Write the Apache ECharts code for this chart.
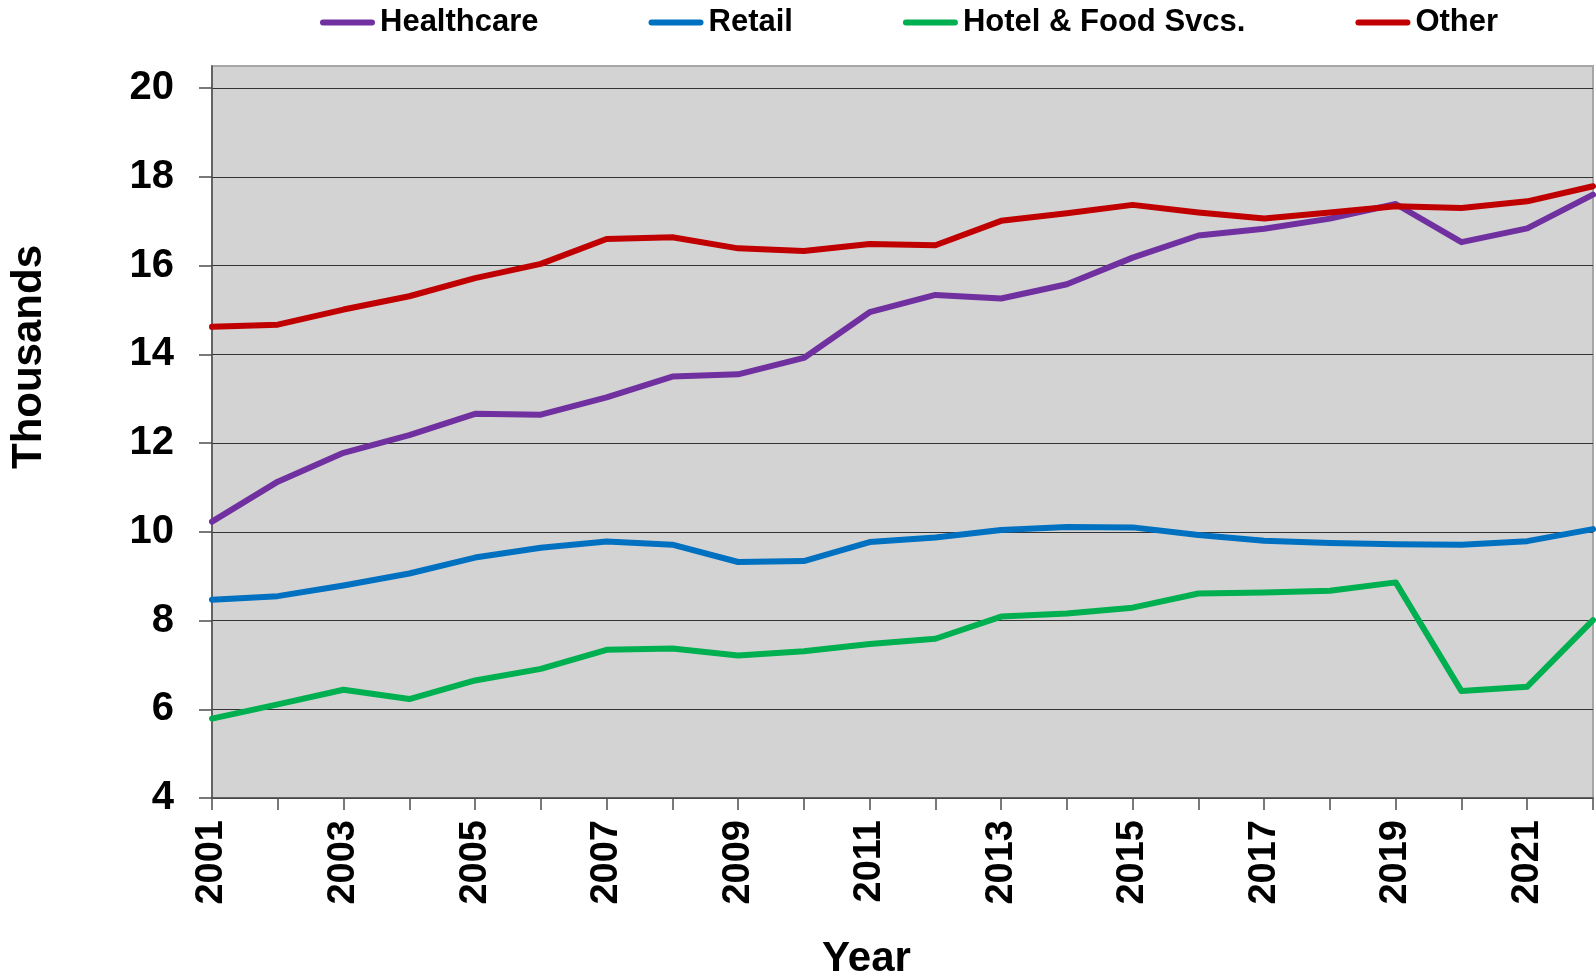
<!DOCTYPE html>
<html>
<head>
<meta charset="utf-8">
<script src="https://cdn.jsdelivr.net/npm/echarts@6/dist/echarts.min.js"></script>
<style>
  html, body { margin: 0; padding: 0; background: #ffffff; }
  #chart { width: 1596px; height: 976px; }
</style>
</head>
<body>
<div id="chart"></div>
<script>
// Employment by sector, thousands
const years = ['2001','2002','2003','2004','2005','2006','2007','2008','2009','2010','2011',
               '2012','2013','2014','2015','2016','2017','2018','2019','2020','2021','2022'];

const healthcare = [10.23, 11.13, 11.78, 12.18, 12.66, 12.64, 13.03, 13.50, 13.55, 13.92, 14.95,
                    15.34, 15.26, 15.58, 16.18, 16.68, 16.83, 17.06, 17.39, 16.53, 16.84, 17.60];
const retail     = [8.47, 8.55, 8.79, 9.06, 9.42, 9.64, 9.78, 9.71, 9.32, 9.34, 9.77,
                    9.87, 10.04, 10.11, 10.10, 9.93, 9.80, 9.75, 9.72, 9.71, 9.79, 10.06];
const hotelFood  = [5.79, 6.11, 6.44, 6.23, 6.65, 6.91, 7.34, 7.37, 7.21, 7.31, 7.47,
                    7.59, 8.09, 8.16, 8.29, 8.61, 8.63, 8.67, 8.86, 6.41, 6.51, 8.01];
const other      = [14.62, 14.67, 15.01, 15.31, 15.72, 16.04, 16.60, 16.64, 16.39, 16.33, 16.49,
                    16.46, 17.01, 17.18, 17.37, 17.20, 17.06, 17.20, 17.34, 17.30, 17.45, 17.79];

const yTicks = [4, 6, 8, 10, 12, 14, 16, 18, 20];

const FONT = '"Liberation Sans", Arial, sans-serif';
const capsule = 'path://M3,0 L52,0 A3,3 0 0 1 52,6 L3,6 A3,3 0 0 1 3,0 Z';

function lineSeries(name, data, color) {
  return {
    name: name,
    type: 'line',
    data: data,
    symbol: 'none',
    lineStyle: { color: color, width: 6, cap: 'round', join: 'round' },
    itemStyle: { color: color },
    z: 3
  };
}

const chart = echarts.init(document.getElementById('chart'), null, { renderer: 'canvas' });

chart.setOption({
  animation: false,
  backgroundColor: '#ffffff',
  legend: {
    left: 315,
    top: 2,
    icon: capsule,
    itemWidth: 55,
    itemHeight: 6,
    itemGap: 110,
    textStyle: { fontFamily: FONT, fontSize: 31, fontWeight: 'bold', color: '#000' },
    data: ['Healthcare', 'Retail', 'Hotel & Food Svcs.', 'Other']
  },
  grid: {
    left: 212,
    right: 3,
    top: 66,
    bottom: 178,
    outerBoundsMode: 'none',
    show: true,
    backgroundColor: '#d3d3d3',
    borderColor: '#a6a6a6',
    borderWidth: 2
  },
  xAxis: {
    type: 'category',
    data: years,
    boundaryGap: false,
    name: 'Year',
    nameLocation: 'middle',
    nameGap: 140,
    nameTextStyle: { fontFamily: FONT, fontSize: 42, fontWeight: 'bold', color: '#000', padding: [0, 72, 0, 0] },
    axisLine: { lineStyle: { color: '#4d4d4d', width: 1.5 } },
    axisTick: { show: true, interval: 0, length: 12, alignWithLabel: true, lineStyle: { color: '#4d4d4d', width: 1.5 } },
    axisLabel: {
      interval: 1,
      rotate: 90,
      margin: 22,
      fontFamily: FONT, fontSize: 38, fontWeight: 'bold', color: '#000'
    },
    splitLine: { show: false }
  },
  yAxis: {
    type: 'value',
    min: 4,
    max: 20.5,
    interval: 2,
    name: 'Thousands',
    nameLocation: 'middle',
    nameGap: 162,
    nameTextStyle: { fontFamily: FONT, fontSize: 42, fontWeight: 'bold', color: '#000', padding: [0, 0, 0, 150] },
    axisLine: { show: true, lineStyle: { color: '#4d4d4d', width: 1.5 } },
    axisTick: { show: true, length: 13, customValues: yTicks, lineStyle: { color: '#4d4d4d', width: 1.5 } },
    axisLabel: {
      customValues: yTicks,
      margin: 38,
      fontFamily: FONT, fontSize: 40, fontWeight: 'bold', color: '#000'
    },
    splitLine: { show: true, lineStyle: { color: '#333333', width: 1.2 } }
  },
  series: [
    lineSeries('Healthcare', healthcare, '#7030A0'),
    lineSeries('Retail', retail, '#0070C0'),
    lineSeries('Hotel & Food Svcs.', hotelFood, '#00B050'),
    lineSeries('Other', other, '#C00000')
  ]
});
</script>
</body>
</html>
